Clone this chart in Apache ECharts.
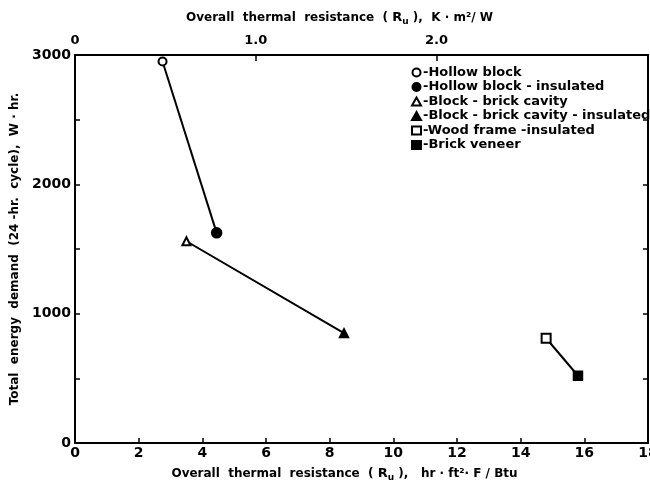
<!DOCTYPE html>
<html>
<head>
<meta charset="utf-8">
<script src="https://cdn.jsdelivr.net/npm/echarts@6/dist/echarts.min.js"></script>
<style>
  html, body { margin: 0; padding: 0; background: #fff; }
  #main { width: 650px; height: 484px; }
</style>
</head>
<body>
<div id="main"></div>
<script>
// wall types, in legend order
const wallTypes = ['Hollow block', 'Hollow block - insulated', 'Block - brick cavity',
                   'Block - brick cavity - insulated', 'Wood frame -insulated', 'Brick veneer'];
const wallSymbols = ['emptyCircle', 'circle', 'emptyTriangle', 'triangle', 'emptyRect', 'rect'];
const wallSizes = [8, 10, 8, 9, 9, 9];
// overall thermal resistance, hr·ft²·F/Btu
const rValues = [2.75, 4.45, 3.5, 8.45, 14.8, 15.8];
// total energy demand, W·hr
const demand = [2950, 1625, 1560, 850, 810, 520];
// each wall and its insulated version are joined by a line
const pairs = [[0, 1], [2, 3], [4, 5]];
const xTicks = [0, 18, 2];
const yTicks = [0, 3000, 500];
const topLabels = [0, 1, 2];
const SI_PER_US = 0.17611;  // K·m²/W per hr·ft²·F/Btu

const font = 'DejaVu Sans';
const chart = echarts.init(document.getElementById('main'));

const lineSeries = pairs.map(p => ({
    type: 'line',
    xAxisIndex: 0,
    data: p.map(i => [rValues[i], demand[i]]),
    symbol: 'none',
    lineStyle: { color: '#000', width: 2 },
    silent: true,
    z: 1
}));
const pointSeries = wallTypes.map((name, i) => ({
    name: name,
    type: 'scatter',
    xAxisIndex: 0,
    data: [[rValues[i], demand[i]]],
    symbol: wallSymbols[i],
    symbolSize: wallSizes[i],
    itemStyle: { color: '#000', borderColor: '#000', borderWidth: 1.5, opacity: 1 },
    z: 3
}));

const axisLine = { onZero: false, lineStyle: { color: '#000', width: 2 } };
const nameRich = {
    s: { fontFamily: font, fontWeight: 'bold', fontSize: 13 },
    sub: { fontFamily: font, fontWeight: 'bold', fontSize: 9, padding: [7, 0, 0, 0] }
};

chart.setOption({
    animation: false,
    backgroundColor: '#fff',
    textStyle: { fontFamily: font, color: '#000' },
    grid: { left: 75, right: 2, top: 55, bottom: 41, outerBoundsMode: 'none' },
    legend: {
        orient: 'vertical',
        left: 406,
        top: 61,
        itemGap: 1.5,
        itemWidth: 9,
        itemHeight: 8,
        data: wallTypes,
        formatter: name => '-' + name,
        textStyle: { fontFamily: font, fontWeight: 'bold', fontSize: 13, color: '#000', padding: [0, 0, 0, -3] }
    },
    xAxis: [{
        type: 'value',
        position: 'bottom',
        min: xTicks[0], max: xTicks[1], interval: xTicks[2],
        splitLine: { show: false },
        axisLine: axisLine,
        axisTick: { inside: true, length: 5, lineStyle: { color: '#000', width: 1.5 } },
        axisLabel: { color: '#000', fontFamily: font, fontWeight: 'bold', fontSize: 14, margin: 3 },
        name: 'Overall  thermal  resistance  ( {s|R}{sub|u} ),   hr · ft²· F / Btu',
        nameLocation: 'middle',
        nameGap: 23,
        nameTextStyle: {
            fontFamily: font, fontWeight: 'bold', fontSize: 12, color: '#000', padding: [0, 34, 0, 0],
            rich: nameRich
        }
    }, {
        type: 'value',
        position: 'top',
        min: 0, max: xTicks[1] * SI_PER_US,
        splitLine: { show: false },
        axisLine: axisLine,
        axisTick: { inside: true, length: 6, customValues: [1, 2], lineStyle: { color: '#000', width: 1.5 } },
        axisLabel: {
            customValues: topLabels, color: '#000', fontFamily: font, fontWeight: 'bold', fontSize: 13, margin: 8,
            formatter: v => v === 0 ? '0' : v.toFixed(1)
        },
        name: 'Overall  thermal  resistance  ( {s|R}{sub|u} ),  K · m²/ W',
        nameLocation: 'middle',
        nameGap: 29,
        nameTextStyle: {
            fontFamily: font, fontWeight: 'bold', fontSize: 12, color: '#000', padding: [0, 44, 0, 0],
            rich: nameRich
        }
    }],
    yAxis: [{
        type: 'value',
        position: 'left',
        min: yTicks[0], max: yTicks[1], interval: yTicks[2],
        splitLine: { show: false },
        axisLine: axisLine,
        axisTick: { inside: true, length: 5, lineStyle: { color: '#000', width: 1.5 } },
        axisLabel: {
            color: '#000', fontFamily: font, fontWeight: 'bold', fontSize: 14, margin: 4,
            formatter: v => v % 1000 === 0 ? String(v) : ''
        },
        name: 'Total  energy  demand  (24 -hr.  cycle),  W · hr.',
        nameLocation: 'middle',
        nameGap: 52,
        nameTextStyle: { fontFamily: font, fontWeight: 'bold', fontSize: 12, color: '#000' }
    }, {
        type: 'value',
        position: 'right',
        min: yTicks[0], max: yTicks[1], interval: yTicks[2],
        splitLine: { show: false },
        axisLine: axisLine,
        axisTick: { inside: true, length: 5, lineStyle: { color: '#000', width: 1.5 } },
        axisLabel: { show: false }
    }],
    series: lineSeries.concat(pointSeries)
});
</script>
</body>
</html>
